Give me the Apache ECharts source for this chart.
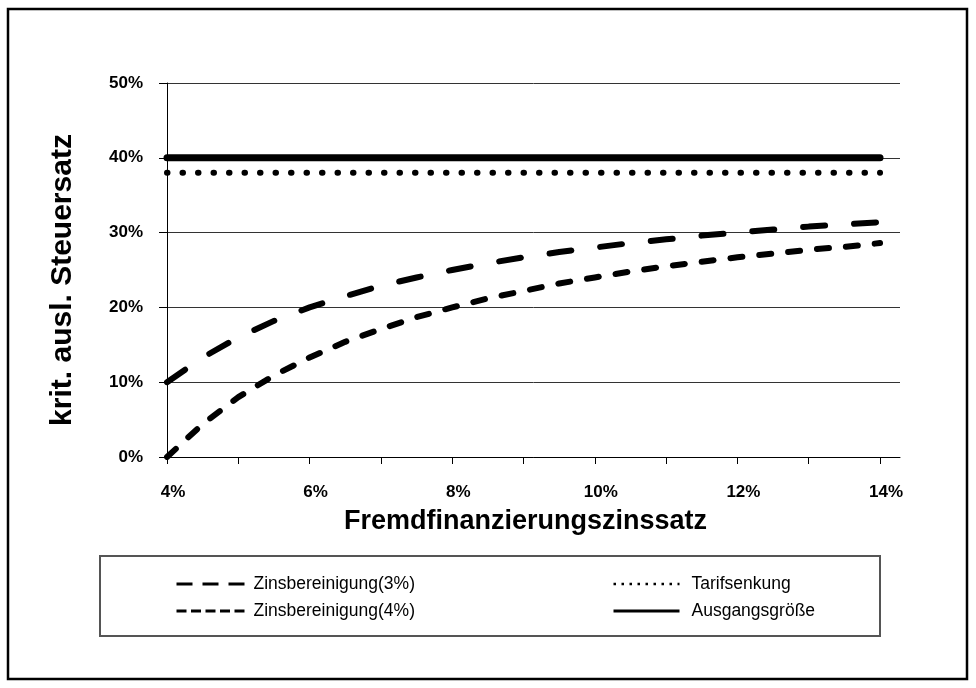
<!DOCTYPE html>
<html>
<head>
<meta charset="utf-8">
<script src="https://cdn.jsdelivr.net/npm/echarts@6/dist/echarts.min.js"></script>
<style>
  html, body { margin: 0; padding: 0; background: #fff; }
  #chart { width: 976px; height: 688px; }
</style>
</head>
<body>
<div id="chart"></div>
<script>
// Fremdfinanzierungszinssatz in %
const zinssatz = [4, 4.5, 5, 5.5, 6, 6.5, 7, 7.5, 8, 8.5, 9, 9.5, 10, 10.5, 11, 11.5, 12, 12.5, 13, 13.5, 14]
// krit. ausl. Steuersatz in %
const zins3 = [10.0, 13.3, 16.0, 18.2, 20.0, 21.5, 22.9, 24.0, 25.0, 25.9, 26.7, 27.4, 28.0, 28.6, 29.1, 29.6, 30.0, 30.4, 30.8, 31.1, 31.4]
const zins4 = [0.0, 4.4, 8.0, 10.9, 13.3, 15.4, 17.1, 18.7, 20.0, 21.2, 22.2, 23.2, 24.0, 24.8, 25.5, 26.1, 26.7, 27.2, 27.7, 28.1, 28.6]
const tarif = [38, 38, 38, 38, 38, 38, 38, 38, 38, 38, 38, 38, 38, 38, 38, 38, 38, 38, 38, 38, 38]
const ausgang = [40, 40, 40, 40, 40, 40, 40, 40, 40, 40, 40, 40, 40, 40, 40, 40, 40, 40, 40, 40, 40]

const names = ['Zinsbereinigung(3%)', 'Zinsbereinigung(4%)', 'Tarifsenkung', 'Ausgangsgröße']
const font = 'Arial, "Liberation Sans", sans-serif'

const pairs = ys => zinssatz.map((x, i) => [x, ys[i]])

const chart = echarts.init(document.getElementById('chart'))

const lineSeries = (name, ys, width, type, z) => ({
  name, type: 'line', data: pairs(ys), symbol: 'none', z,
  itemStyle: { color: '#000' },
  lineStyle: { color: '#000', width, type, cap: 'round' }
})

const legendText = pad => ({ fontFamily: font, fontSize: 17.5, color: '#000', padding: [0, 0, 0, pad] })
// legend entry: only the line sample, no symbol dot
const legendItem = (name, width, type) => ({
  name, itemStyle: { opacity: 0 },
  lineStyle: { color: '#000', width, type, cap: 'butt' }
})

chart.setOption({
  backgroundColor: '#fff',
  animation: false,
  grid: { left: 167, top: 83, right: 76, bottom: 231 },
  xAxis: {
    type: 'value', min: 4, max: 14.28, interval: 1,
    name: 'Fremdfinanzierungszinssatz', nameLocation: 'middle', nameGap: 51,
    nameTextStyle: { fontFamily: font, fontWeight: 'bold', fontSize: 27, color: '#000', padding: [0, 16, 0, 0] },
    axisLine: { show: true, lineStyle: { color: '#000', width: 1 } },
    axisTick: { show: true, length: 7, lineStyle: { color: '#000' } },
    axisLabel: {
      formatter: v => (v % 2 === 0 ? v + '%' : ''),
      showMaxLabel: false, margin: 27, padding: [0, 0, 0, 12],
      fontFamily: font, fontWeight: 'bold', fontSize: 17, color: '#000'
    },
    splitLine: { show: false }
  },
  yAxis: {
    type: 'value', min: 0, max: 50, interval: 10,
    name: 'krit. ausl. Steuersatz', nameLocation: 'middle', nameGap: 89,
    nameTextStyle: { fontFamily: font, fontWeight: 'bold', fontSize: 30, color: '#000', padding: [0, 20, 0, 0] },
    axisLine: { show: true, lineStyle: { color: '#000', width: 1 } },
    axisTick: { show: true, length: 8, lineStyle: { color: '#000' } },
    axisLabel: { formatter: '{value}%', margin: 24, fontFamily: font, fontWeight: 'bold', fontSize: 17, color: '#000' },
    splitLine: { show: true, lineStyle: { color: '#333', width: 1 } }
  },
  legend: [
    {
      orient: 'vertical', left: 170, top: 570, itemWidth: 68, itemHeight: 14, itemGap: 9,
      textStyle: legendText(4),
      data: [legendItem(names[0], 3, [16, 10]), legendItem(names[1], 3, [10, 4.5])]
    },
    {
      orient: 'vertical', left: 607, top: 570, itemWidth: 66, itemHeight: 14, itemGap: 9,
      textStyle: legendText(7),
      data: [legendItem(names[2], 2.5, [2.5, 5.5]), legendItem(names[3], 3, 'solid')]
    }
  ],
  graphic: [
    { type: 'rect', shape: { x: 8, y: 9, width: 959, height: 670 }, style: { fill: 'none', stroke: '#000', lineWidth: 2.5 }, silent: true },
    { type: 'rect', shape: { x: 100, y: 556, width: 780, height: 80 }, style: { fill: 'none', stroke: '#555', lineWidth: 2 }, silent: true }
  ],
  series: [
    lineSeries(names[0], zins3, 6, [22, 29], 3),
    lineSeries(names[1], zins4, 6, [12, 17], 3),
    lineSeries(names[2], tarif, 6, [0.5, 15], 3),
    lineSeries(names[3], ausgang, 7, 'solid', 4)
  ]
})
</script>
</body>
</html>
